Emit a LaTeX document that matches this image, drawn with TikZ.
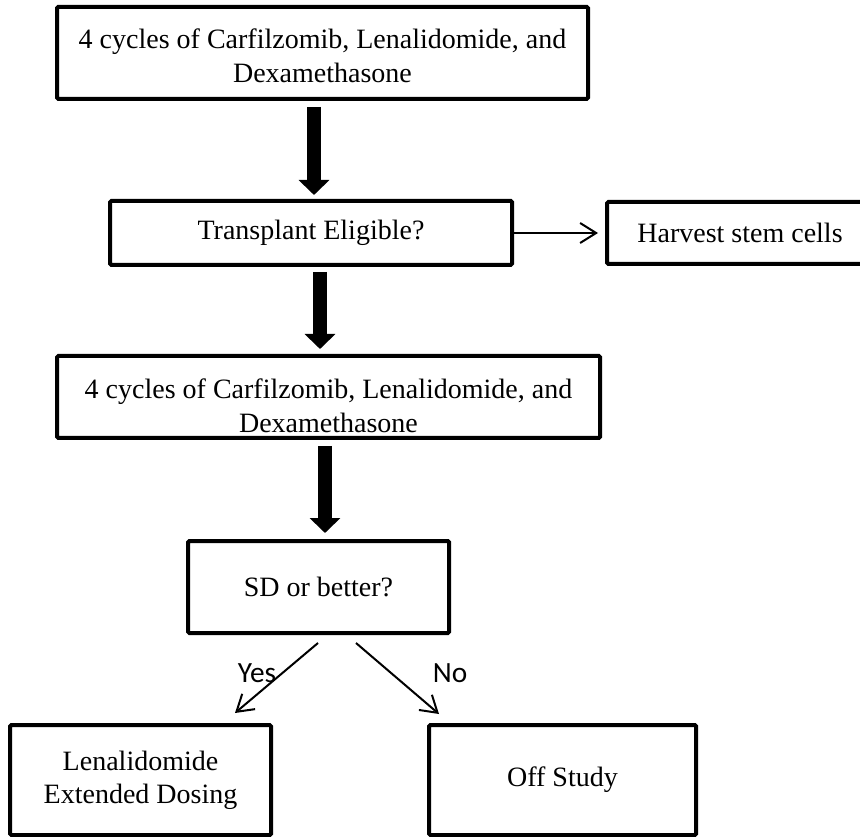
\documentclass[tikz,border=0pt]{standalone}
\usepackage{fontspec}
\setmainfont{Liberation Serif}
\newfontfamily\answerfont{Carlito}
\usetikzlibrary{arrows.meta,calc}
\tikzset{
  stepbox/.style = {draw, line width=3pt, rounded corners=1pt, outer sep=0pt,
    inner sep=0pt, align=center, font=\fontsize{21}{24.8}\selectfont},
  bigarrow/.style = {line width=10.5pt, -{Triangle[length=11.25pt,width=22.5pt]}},
  thinarrow/.style = {line width=1.5pt, -{Straight Barb[length=12pt,width=15pt]}},
  answer/.style = {font=\answerfont\fontsize{22}{26}\selectfont}
}

\begin{document}
\begin{tikzpicture}[x=0.75pt,y=-0.75pt]
\useasboundingbox (0,0) rectangle (860,837);
\clip (0,0) rectangle (860,837);

% boxes
\node[stepbox, minimum width=398.25pt, minimum height=69pt] (cycA) at (322.5,53)
  {\rule{0pt}{19pt}4 cycles of Carfilzomib, Lenalidomide, and\\Dexamethasone};
\node[stepbox, minimum width=301.5pt, minimum height=48pt] (elig) at (311,233)
  {Transplant Eligible?};
\node[stepbox, minimum width=199.5pt, minimum height=46.5pt] (harvest) at (740,233)
  {Harvest stem cells};
\node[stepbox, minimum width=407.25pt, minimum height=61.5pt] (cycB) at (328.5,397)
  {\rule{0pt}{28pt}4 cycles of Carfilzomib, Lenalidomide, and\\Dexamethasone};
\node[stepbox, minimum width=195.75pt, minimum height=69pt] (sd) at (318.5,587)
  {SD or better?};
\node[stepbox, minimum width=195.75pt, minimum height=82.5pt] (ext) at (140.5,780)
  {Lenalidomide\\Extended Dosing};
\node[stepbox, minimum width=200.25pt, minimum height=82.5pt] (off) at (562.5,780)
  {Off Study};

% thick arrows
\draw[bigarrow, shorten <=6pt, shorten >=4.5pt] (cycA.south -| 314,0) -- (elig.north -| 314,0);
\draw[bigarrow, shorten <=5.25pt, shorten >=5.25pt] (elig.south -| 320,0) -- (cycB.north -| 320,0);
\draw[bigarrow, shorten <=6pt, shorten >=6pt] (cycB.south -| 325,0) -- (sd.north -| 325,0);

% thin arrows
\draw[thinarrow, shorten >=6.75pt] (elig.east) -- (harvest.west);
\draw[thinarrow] ($(sd.south -| 318,0)+(0,10)$) -- ($(ext.north -| 235,0)+(0,-12)$);
\draw[thinarrow] ($(sd.south -| 356,0)+(0,10)$) -- ($(off.north -| 439,0)+(0,-11)$);

% answers
\node[answer] (yes) at (257,673) {Yes};
\node[answer] (no) at (450,673) {No};
\end{tikzpicture}
\end{document}
